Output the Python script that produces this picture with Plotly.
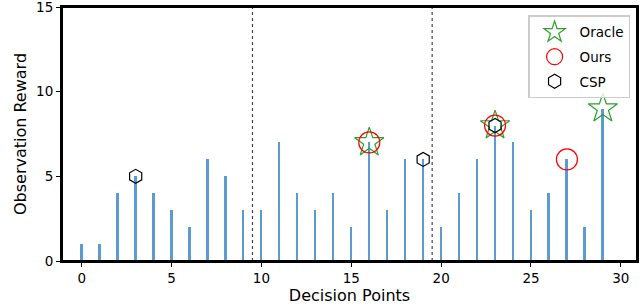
import plotly.graph_objects as go

decision_points = list(range(30))
rewards = [1, 1, 4, 5, 4, 3, 2, 6, 5, 3, 3, 7, 4, 3, 4, 2, 7, 3, 6, 6, 2, 4, 6, 8, 7, 3, 4, 6, 2, 9]
oracle_idx = [16, 23, 29]
ours_idx = [16, 23, 27]
csp_idx = [3, 19, 23]
boundaries = [9.5, 19.5]

font = "DejaVu Sans"
fig = go.Figure()

fig.add_trace(go.Bar(x=decision_points, y=rewards, width=0.11,
                     marker=dict(color="#5b9bd0", line=dict(width=0)),
                     showlegend=False, hoverinfo="skip"))

fig.add_trace(go.Scatter(x=oracle_idx, y=[rewards[i] for i in oracle_idx], mode="markers",
                         name="Oracle", legendgroup="a",
                         marker=dict(symbol="star-open", size=22, color="#2ca02c",
                                     line=dict(width=1.2, color="green"))))
fig.add_trace(go.Scatter(x=ours_idx, y=[rewards[i] for i in ours_idx], mode="markers",
                         name="Ours", legendgroup="b",
                         marker=dict(symbol="circle-open", size=21, color="red",
                                     line=dict(width=1.2, color="red"))))
fig.add_trace(go.Scatter(x=csp_idx, y=[rewards[i] for i in csp_idx], mode="markers",
                         name="CSP", legendgroup="c",
                         marker=dict(symbol="hexagon-open", size=14, color="black",
                                     line=dict(width=1.2, color="#222"))))

for b in boundaries:
    fig.add_shape(type="line", x0=b, x1=b, y0=0, y1=1, yref="paper", xref="x",
                  line=dict(color="#444", width=1.2, dash="dot"))

fig.add_shape(type="rect", xref="paper", yref="paper", x0=0, y0=0, x1=1, y1=1,
              line=dict(color="black", width=2), fillcolor="rgba(0,0,0,0)", layer="above")

fig.update_layout(
    width=640, height=307,
    margin=dict(l=62, r=3, t=7, b=46),
    paper_bgcolor="white", plot_bgcolor="white",
    font=dict(family=font, size=13.5, color="black"),
    bargap=0,
    legend=dict(x=0.988, y=0.967, xanchor="right", yanchor="top",
                bgcolor="rgba(255,255,255,0.8)", bordercolor="#ccc", borderwidth=1.5,
                font=dict(size=13.5), itemsizing="trace", itemwidth=40,
                tracegroupgap=4),
    xaxis=dict(range=[-1.1, 30.9], tickvals=[0, 5, 10, 15, 20, 25, 30],
               ticks="outside", ticklen=4, tickcolor="black", ticklabeloverflow="allow",
               showline=True, linecolor="black", linewidth=2, mirror=True,
               showgrid=False, zeroline=False, automargin=False,
               title=dict(text="Decision Points", standoff=2)),
    yaxis=dict(range=[0, 15], tickvals=[0, 5, 10, 15],
               ticks="outside", ticklen=4, tickcolor="black", ticklabeloverflow="allow",
               showline=True, linecolor="black", linewidth=2, mirror=True,
               showgrid=False, zeroline=False, automargin=False,
               title=dict(text="Observation Reward", standoff=6)),
)

fig.write_html("out.html", config={"displayModeBar": False},
               post_script="document.body.style.margin='0';document.body.style.overflow='hidden';")
